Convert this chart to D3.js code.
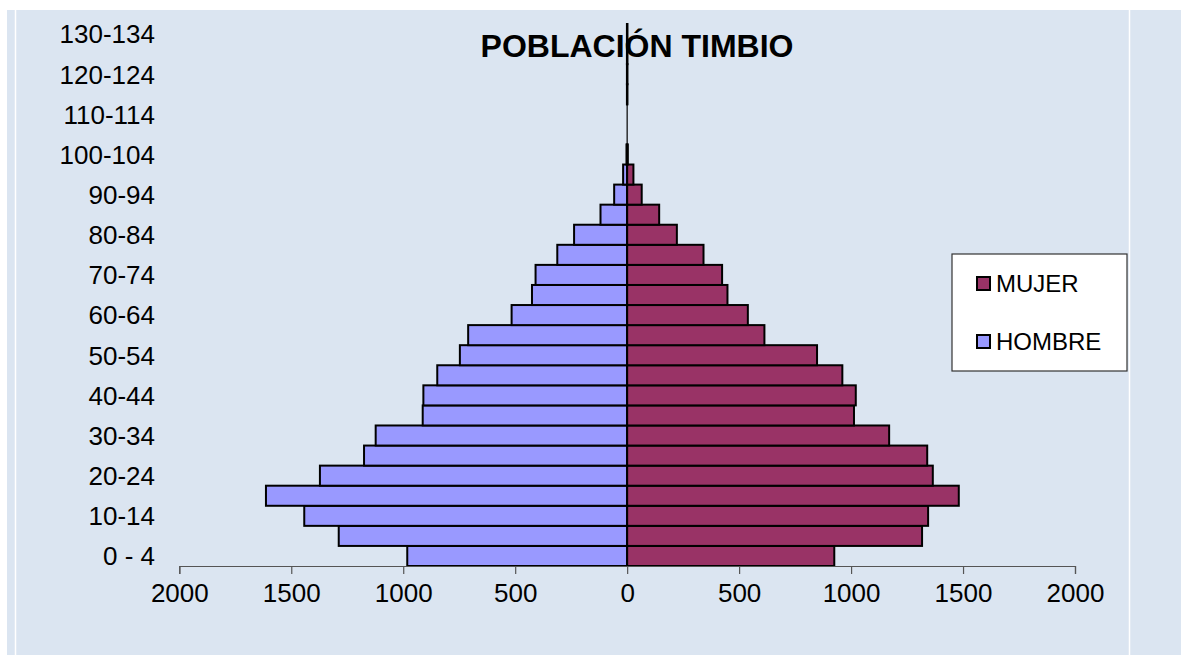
<!DOCTYPE html>
<html>
<head>
<meta charset="utf-8">
<script src="https://cdn.jsdelivr.net/npm/d3@7"></script>
<style>
  html, body { margin: 0; padding: 0; background: #ffffff; }
  svg { display: block; }
</style>
</head>
<body>
<svg id="chart" width="1181" height="655"></svg>
<script>
// ---- data ----
const ageGroups = ["0 - 4","5-9","10-14","15-19","20-24","25-29","30-34","35-39","40-44","45-49",
  "50-54","55-59","60-64","65-69","70-74","75-79","80-84","85-89","90-94","95-99",
  "100-104","105-109","110-114","115-119","120-124","125-129","130-134"];
const hombre = [982,1288,1442,1613,1372,1175,1123,913,910,848,747,710,516,425,409,312,237,119,58,18,3,0,0,1,1,1,1];
const mujer  = [925,1317,1344,1481,1365,1340,1170,1013,1021,961,848,613,539,448,424,341,222,143,65,28,3,0,0,1,1,1,1];
const shownAgeLabels = ["0 - 4","10-14","20-24","30-34","40-44","50-54","60-64","70-74","80-84","90-94","100-104","110-114","120-124","130-134"];
const xTicks = [-2000,-1500,-1000,-500,0,500,1000,1500,2000];
const seriesNames = ["MUJER","HOMBRE"];
const colors = {MUJER: "#993366", HOMBRE: "#9999FF"};
const title = "POBLACIÓN TIMBIO";

const svg = d3.select("#chart");
const font = "'Liberation Sans', Arial, sans-serif";

// background panel
svg.append("rect").attr("x", 7).attr("y", 10).attr("width", 1174).attr("height", 645).attr("fill", "#DBE5F1");
svg.append("line").attr("x1", 15.5).attr("x2", 15.5).attr("y1", 10).attr("y2", 655).attr("stroke", "#ffffff").attr("stroke-width", 1.5);
svg.append("line").attr("x1", 1129.5).attr("x2", 1129.5).attr("y1", 10).attr("y2", 655).attr("stroke", "#ffffff").attr("stroke-width", 1.5);

const x = d3.scaleLinear().domain([-2000, 2000]).range([179.3, 1075]);
const y = d3.scaleBand().domain(ageGroups).range([566, 24]).padding(0);

// title
svg.append("text").attr("x", 637).attr("y", 57).attr("text-anchor", "middle")
  .attr("font-family", font).attr("font-weight", "bold").attr("font-size", 32)
  .attr("fill", "#000").text(title);

// bars
const rows = ageGroups.map((a, i) => ({age: a, h: hombre[i], m: mujer[i]}));
const g = svg.append("g");
g.selectAll("rect.h").data(rows.filter(d => d.h > 0)).join("rect")
  .attr("class", "h")
  .attr("x", d => x(-d.h)).attr("width", d => x(0) - x(-d.h))
  .attr("y", d => y(d.age)).attr("height", y.bandwidth())
  .attr("fill", colors.HOMBRE).attr("stroke", "#000").attr("stroke-width", 2);
g.selectAll("rect.m").data(rows.filter(d => d.m > 0)).join("rect")
  .attr("class", "m")
  .attr("x", x(0)).attr("width", d => x(d.m) - x(0))
  .attr("y", d => y(d.age)).attr("height", y.bandwidth())
  .attr("fill", colors.MUJER).attr("stroke", "#000").attr("stroke-width", 2);

// x axis
const xAxis = d3.axisBottom(x).tickValues(xTicks).tickSize(8).tickPadding(10)
  .tickFormat(d => Math.abs(d));
const xg = svg.append("g").attr("transform", "translate(0,566)").call(xAxis);
xg.select(".domain").attr("stroke", "#555").attr("stroke-width", 1.2);
xg.selectAll(".tick line").attr("stroke", "#555").attr("stroke-width", 1.2);
xg.selectAll(".tick text").attr("font-family", font).attr("font-size", 26).attr("fill", "#000");

// y axis (vertical line at 0) with labels on the left
svg.append("line").attr("x1", x(0)).attr("x2", x(0)).attr("y1", 24).attr("y2", 566)
  .attr("stroke", "#000").attr("stroke-width", 1.2);
const yAxis = d3.axisLeft(y).tickValues(shownAgeLabels).tickSize(0).tickPadding(0);
const yg = svg.append("g").attr("transform", "translate(155,0)").call(yAxis);
yg.select(".domain").remove();
yg.selectAll(".tick text").attr("font-family", font).attr("font-size", 26).attr("fill", "#000").attr("dy", "0.36em");

// legend
const lg = svg.append("g");
lg.append("rect").attr("x", 952).attr("y", 254).attr("width", 175).attr("height", 117)
  .attr("fill", "#fff").attr("stroke", "#333").attr("stroke-width", 1.2);
const ly = d3.scalePoint().domain(seriesNames).range([283.5, 341.5]);
seriesNames.forEach(name => {
  lg.append("rect").attr("x", 977).attr("y", ly(name) - 6.5).attr("width", 13).attr("height", 13)
    .attr("fill", colors[name]).attr("stroke", "#000").attr("stroke-width", 2);
  lg.append("text").attr("x", 996).attr("y", ly(name)).attr("dy", "0.36em")
    .attr("font-family", font).attr("font-size", 24).attr("fill", "#000").text(name);
});
</script>
</body>
</html>
